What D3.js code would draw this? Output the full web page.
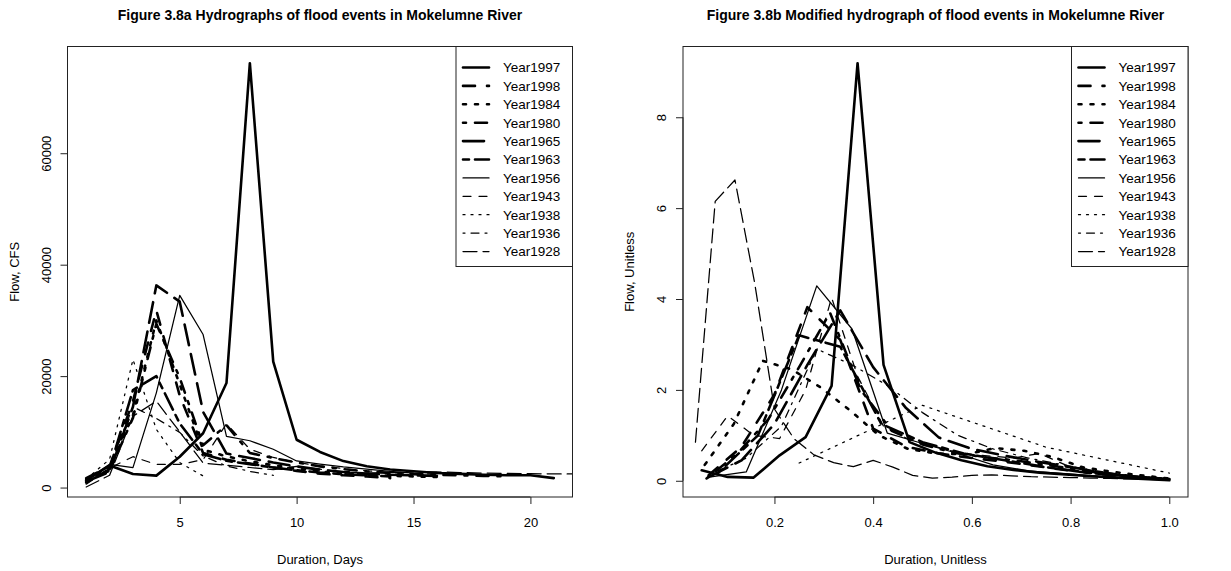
<!DOCTYPE html>
<html>
<head>
<meta charset="utf-8">
<script src="https://cdn.jsdelivr.net/npm/d3@7"></script>
<style>
  body { margin: 0; background: #fff; }
  svg { display: block; }
  text { font-family: "Liberation Sans", Arial, Helvetica, sans-serif; fill: #000; }
</style>
</head>
<body>
<svg id="fig" width="1231" height="571"></svg>
<script>
// Flood events, legend order
const years = ["Year1997", "Year1998", "Year1984", "Year1980", "Year1965", "Year1963",
               "Year1956", "Year1943", "Year1938", "Year1936", "Year1928"];

// Daily flow (CFS), day 1, 2, 3, ...
const cfs1997 = [1300, 3960, 2430, 2140, 5530, 9740, 18760, 76160, 22590, 8580, 6390, 4750, 3830, 3230, 2920, 2610, 2450, 2300, 2200, 2200, 1700];
const cfs1998 = [1700, 3800, 15500, 31800, 16500, 6200, 5000, 4300, 3600, 3000, 2500, 2200, 2000, 1700];
const cfs1984 = [1500, 3400, 13000, 30000, 18500, 6800, 5600, 4700, 4000, 3400, 2900, 2500, 2300, 2100, 2000, 1900];
const cfs1980 = [1200, 3000, 12500, 29400, 19700, 7600, 11200, 6200, 5300, 4500, 3800, 3300, 2900, 2600, 2400, 2300, 2200, 2100, 2000];
const cfs1965 = [1100, 2800, 14500, 36280, 33360, 13580, 6100, 5300, 4500, 3800, 3200, 2800, 2500, 2300, 2200, 2100];
const cfs1963 = [900, 3300, 17500, 20000, 11500, 6000, 4800, 4200, 3600, 3100, 2700, 2400, 2200, 2000];
const cfs1956 = [1400, 4170, 3580, 17000, 34480, 27460, 9190, 8400, 6880, 4770, 4200, 3700, 3300, 2900, 2600];
const cfs1943 = [600, 3500, 5540, 4140, 4140, 5000, 11450, 6880, 5400, 4500, 3900, 3400, 3000, 2700, 2500, 2400];
const cfs1938 = [1500, 5070, 23000, 10440, 4480, 2080];
const cfs1936 = [1300, 3800, 14500, 12400, 9900, 5660, 3870, 2900, 2200];
const cfs1928 = [100, 2200, 12800, 15500, 10000, 4400, 4000, 3600, 3200, 3800, 3300, 2800, 2600, 2700, 2800, 2800, 2700, 2600, 2550, 2500, 2450, 2450, 2450, 2450, 2450];

// Modified hydrographs (unitless flow), ordinate i of n sits at duration i/n
const uni1997 = [0.23, 0.085, 0.07, 0.56, 0.96, 2.09, 9.19, 2.55, 0.85, 0.62, 0.45, 0.32, 0.24, 0.18, 0.14, 0.10, 0.07, 0.04, 0.01];
const uni1998 = [0.12, 0.75, 1.9, 3.82, 3.1, 1.15, 0.75, 0.6, 0.5, 0.42, 0.32, 0.22, 0.14, 0.08, 0.03];
const uni1984 = [0.35, 1.25, 2.64, 2.45, 2.05, 1.55, 1.0, 0.7, 0.6, 0.58, 0.72, 0.66, 0.52, 0.3, 0.2, 0.12, 0.05];
const uni1980 = [0.05, 0.6, 1.35, 2.5, 3.7, 2.0, 1.1, 0.8, 0.62, 0.52, 0.45, 0.35, 0.25, 0.15, 0.08, 0.03];
const uni1965 = [0.08, 0.45, 1.25, 2.55, 3.75, 2.5, 1.6, 0.95, 0.7, 0.55, 0.42, 0.3, 0.18, 0.09, 0.03];
const uni1963 = [0.15, 1.0, 3.2, 2.95, 1.25, 0.85, 0.6, 0.45, 0.3, 0.18, 0.1, 0.04];
const uni1956 = [0.085, 0.195, 2.0, 4.29, 3.34, 1.05, 0.82, 0.6, 0.35, 0.22, 0.16, 0.1, 0.05, 0.02];
const uni1943 = [0.66, 1.43, 1.0, 0.93, 2.0, 4.03, 2.3, 1.2, 0.9, 0.75, 0.6, 0.55, 0.5, 0.6, 0.35, 0.22, 0.12, 0.07, 0.03];
const uni1938 = [0.39, 1.66, 0.74, 0.17];
const uni1936 = [0.15, 0.5, 1.2, 2.9, 2.55, 2.1, 1.5, 1.0, 0.7, 0.5, 0.35, 0.2, 0.1, 0.04];
const uni1928 = [0.85, 6.15, 6.62, 4.35, 1.58, 0.92, 0.57, 0.40, 0.31, 0.45, 0.30, 0.12, 0.06, 0.08, 0.12, 0.13, 0.11, 0.09, 0.08, 0.07, 0.06, 0.05, 0.04, 0.03, 0.02];

// Tick values
const dayTicks = [5, 10, 15, 20];
const cfsTicks = [0, 20000, 40000, 60000];
const durTicks = [0.2, 0.4, 0.6, 0.8, 1.0];
const uniTicks = [0, 2, 4, 6, 8];

const cfsSeries = [cfs1997, cfs1998, cfs1984, cfs1980, cfs1965, cfs1963, cfs1956, cfs1943, cfs1938, cfs1936, cfs1928];
const uniSeries = [uni1997, uni1998, uni1984, uni1980, uni1965, uni1963, uni1956, uni1943, uni1938, uni1936, uni1928];

// Line types follow the R lty cycle: six heavy lines, then five light ones
const ltyCodes = [1, 2, 3, 4, 5, 6, 1, 2, 3, 4, 5];
const heavy = [true, true, true, true, true, true, false, false, false, false, false];
const ltyDash = { 1: null, 2: [4, 4], 3: [1, 3], 4: [1, 3, 4, 3], 5: [7, 3], 6: [2, 2, 6, 2] };

function strokeStyle(k) {
  const w = heavy[k] ? 2.6 : 1.25;
  const scale = heavy[k] ? 3 : 2;
  const base = ltyDash[ltyCodes[k]];
  return { width: w, dash: base ? base.map(v => v * scale).join(",") : null };
}

const svg = d3.select("#fig");
const plotTop = 46.5, plotBottom = 497;

const panels = [
  {
    id: "a",
    title: "Figure 3.8a Hydrographs of flood events in Mokelumne River",
    xLabel: "Duration, Days", yLabel: "Flow, CFS",
    series: cfsSeries, xOf: (i, n) => i + 1,
    xTicks: dayTicks, yTicks: cfsTicks, fmtX: d => String(d), fmtY: d => String(d),
    left: 67.5, right: 572.5
  },
  {
    id: "b",
    title: "Figure 3.8b Modified hydrograph of flood events in Mokelumne River",
    xLabel: "Duration, Unitless", yLabel: "Flow, Unitless",
    series: uniSeries, xOf: (i, n) => (i + 1) / n,
    xTicks: durTicks, yTicks: uniTicks, fmtX: d => d.toFixed(1), fmtY: d => String(d),
    left: 683, right: 1188
  }
];

// R-style axis limits: range of the first series plus 4% on each side
function padded(ext) {
  const r = ext[1] - ext[0];
  return [ext[0] - 0.04 * r, ext[1] + 0.04 * r];
}

panels.forEach(p => {
  const first = p.series[0];
  const xs = first.map((v, i) => p.xOf(i, first.length));
  const x = d3.scaleLinear().domain(padded(d3.extent(xs))).range([p.left, p.right]);
  const y = d3.scaleLinear().domain(padded(d3.extent(first))).range([plotBottom, plotTop]);

  const g = svg.append("g");

  g.append("clipPath").attr("id", "clip-" + p.id)
    .append("rect")
    .attr("x", p.left).attr("y", plotTop)
    .attr("width", p.right - p.left).attr("height", plotBottom - plotTop);

  const line = d3.line().x(d => x(d[0])).y(d => y(d[1]));

  const lines = g.append("g").attr("clip-path", `url(#clip-${p.id})`);
  p.series.forEach((s, k) => {
    const pts = s.map((v, i) => [p.xOf(i, s.length), v]);
    const st = strokeStyle(k);
    lines.append("path")
      .attr("d", line(pts))
      .attr("fill", "none")
      .attr("stroke", "#000")
      .attr("stroke-width", st.width)
      .attr("stroke-linejoin", "round")
      .attr("stroke-linecap", "round")
      .attr("stroke-dasharray", st.dash);
  });

  // plot frame
  g.append("rect")
    .attr("x", p.left).attr("y", plotTop)
    .attr("width", p.right - p.left).attr("height", plotBottom - plotTop)
    .attr("fill", "none").attr("stroke", "#222").attr("stroke-width", 1);

  // bottom axis
  const ax = g.append("g").attr("transform", `translate(0,${plotBottom})`)
    .call(d3.axisBottom(x).tickValues(p.xTicks).tickFormat(p.fmtX).tickSize(7).tickSizeOuter(0));
  ax.select(".domain").remove();
  ax.selectAll(".tick line").attr("stroke", "#222");
  ax.selectAll(".tick text").attr("y", 21).attr("dy", "0.71em").style("font-size", "13px");
  ax.append("line")
    .attr("x1", x(p.xTicks[0])).attr("x2", x(p.xTicks[p.xTicks.length - 1]))
    .attr("stroke", "#222");

  // left axis, labels parallel to the axis
  const ay = g.append("g").attr("transform", `translate(${p.left},0)`)
    .call(d3.axisLeft(y).tickValues(p.yTicks).tickFormat(p.fmtY).tickSize(7).tickSizeOuter(0));
  ay.select(".domain").remove();
  ay.selectAll(".tick line").attr("stroke", "#222");
  ay.selectAll(".tick text")
    .attr("x", null).attr("dy", null)
    .attr("transform", "translate(-17,0) rotate(-90)")
    .style("text-anchor", "middle").style("font-size", "13px");
  ay.append("line")
    .attr("y1", y(p.yTicks[0])).attr("y2", y(p.yTicks[p.yTicks.length - 1]))
    .attr("stroke", "#222");

  // titles
  const cx = (p.left + p.right) / 2;
  g.append("text").attr("x", cx).attr("y", 20)
    .attr("text-anchor", "middle").style("font-size", "14px").style("font-weight", "bold")
    .text(p.title);
  g.append("text").attr("x", cx).attr("y", 564)
    .attr("text-anchor", "middle").style("font-size", "13px")
    .text(p.xLabel);
  g.append("text")
    .attr("transform", `translate(${p.left - 49},${(plotTop + plotBottom) / 2}) rotate(-90)`)
    .attr("text-anchor", "middle").style("font-size", "13px")
    .text(p.yLabel);

  // legend, top right of the plot region
  const legW = 116.5, rowH = 18.4, legH = 220;
  const lx = p.right - legW, ly = plotTop;
  const leg = g.append("g");
  leg.append("rect").attr("x", lx).attr("y", ly).attr("width", legW).attr("height", legH)
    .attr("fill", "#fff").attr("stroke", "#222").attr("stroke-width", 1);
  years.forEach((name, k) => {
    const ry = ly + 21 + k * rowH;
    const st = strokeStyle(k);
    leg.append("line")
      .attr("x1", lx + 7).attr("x2", lx + 33).attr("y1", ry).attr("y2", ry)
      .attr("stroke", "#000").attr("stroke-width", st.width)
      .attr("stroke-linecap", "round").attr("stroke-dasharray", st.dash);
    leg.append("text").attr("x", lx + 47).attr("y", ry).attr("dy", "0.36em")
      .style("font-size", "13.5px").text(name);
  });
});
</script>
</body>
</html>
